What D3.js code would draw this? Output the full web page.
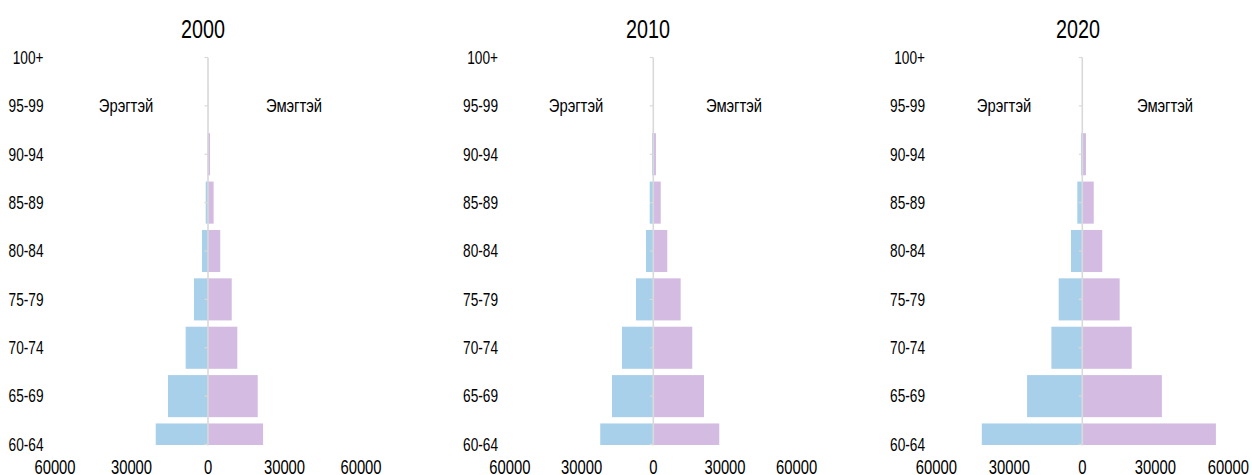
<!DOCTYPE html>
<html>
<head>
<meta charset="utf-8">
<script src="https://cdn.jsdelivr.net/npm/d3@7"></script>
<style>
  html, body { margin: 0; padding: 0; background: #fff; }
  svg text { font-family: "Liberation Sans", Arial, sans-serif; fill: #000; }
</style>
</head>
<body>
<svg id="chart" width="1252" height="475"></svg>
<script>
const ages = ["60-64","65-69","70-74","75-79","80-84","85-89","90-94","95-99","100+"];
const years = ["2000","2010","2020"];
const male2000   = [20500,15700,8750,5500,2350,900,150,20,0];
const female2000 = [21600,19500,11500,9300,4800,2200,800,60,0];
const male2010   = [22200,17300,13100,7250,3050,1500,550,60,0];
const female2010 = [27600,21200,16300,11450,5850,3100,1100,150,0];
const male2020   = [41300,22700,12700,9700,4650,2050,550,60,0];
const female2020 = [54900,32700,20300,15350,8200,4700,1500,200,0];
const xTicks = [-60000,-30000,0,30000,60000];
const maleLabel = "Эрэгтэй";
const femaleLabel = "Эмэгтэй";

const maleData = [male2000, male2010, male2020];
const femaleData = [female2000, female2010, female2020];

// layout per panel (span = pixel distance for 60000)
const panels = [
  { cx: 208,    span: 153.0, labelX: 43.5, titleX: 203,  mX: 126,  fX: 294 },
  { cx: 653.3,  span: 143.4, labelX: 498,  titleX: 648,  mX: 576,  fX: 734 },
  { cx: 1082.3, span: 146.0, labelX: 925,  titleX: 1078, mX: 1004, fX: 1165 }
];
const yTop = 57.5, yBot = 444.5;
const colMale = "#a9d0ea", colFemale = "#d3bbe1", colAxis = "#d9d9d9";
const SX = 0.76; // horizontal compression of text as in reference

const svg = d3.select("#chart");
const y = d3.scalePoint().domain(ages).range([yBot, yTop]);
const barH = y.step() * 0.87;

svg.append("defs").append("clipPath").attr("id","plotclip")
  .append("rect").attr("x",0).attr("y",yTop).attr("width",1252).attr("height",yBot - yTop + 0.5);

function txt(sel, x, y, size, anchor, s, sx) {
  return sel.append("text")
    .attr("transform", `translate(${x},${y}) scale(${sx || SX},1)`)
    .attr("text-anchor", anchor).style("font-size", size + "px").text(s);
}

panels.forEach((p, i) => {
  const x = d3.scaleLinear().domain([-60000, 60000]).range([p.cx - p.span, p.cx + p.span]);
  const g = svg.append("g");

  // title
  txt(g, p.titleX, 38, 26, "middle", years[i]);

  // bars
  const bars = g.append("g").attr("clip-path","url(#plotclip)");
  bars.selectAll("rect.m").data(ages).join("rect").attr("class","m")
    .attr("x", (d, j) => x(-maleData[i][j]))
    .attr("width", (d, j) => x(0) - x(-maleData[i][j]))
    .attr("y", d => y(d) - barH/2).attr("height", barH)
    .attr("fill", colMale);
  bars.selectAll("rect.f").data(ages).join("rect").attr("class","f")
    .attr("x", x(0))
    .attr("width", (d, j) => x(femaleData[i][j]) - x(0))
    .attr("y", d => y(d) - barH/2).attr("height", barH)
    .attr("fill", colFemale);

  // central axis
  g.append("line").attr("x1", x(0)).attr("x2", x(0)).attr("y1", yTop).attr("y2", yBot + 1)
    .attr("stroke", colAxis).attr("stroke-width", 1.6);
  g.selectAll("line.tk").data(ages).join("line").attr("class","tk")
    .attr("x1", x(0) - 3.5).attr("x2", x(0)).attr("y1", d => y(d)).attr("y2", d => y(d))
    .attr("stroke", colAxis).attr("stroke-width", 1.2);

  // category labels
  ages.forEach(a => txt(g, p.labelX, y(a) + 6.3, 18, "end", a));

  // sex labels
  txt(g, p.mX, y("95-99") + 6.5, 19, "middle", maleLabel, 0.78);
  txt(g, p.fX, y("95-99") + 6.5, 19, "middle", femaleLabel, 0.78);

  // x tick labels
  xTicks.forEach(t => txt(g, x(t), 474, 19.5, "middle", String(Math.abs(t))));
});
</script>
</body>
</html>
